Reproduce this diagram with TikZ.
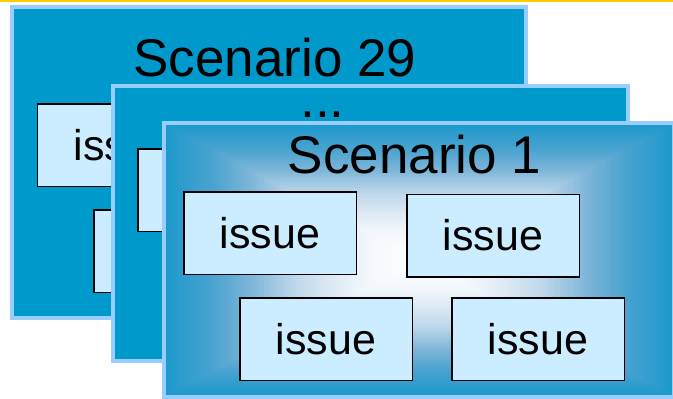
\documentclass[tikz,border=0pt]{standalone}
\usepackage{fontspec}
\setmainfont{Liberation Sans}

\definecolor{panelblue}{HTML}{0099CC}
\definecolor{panelrim}{HTML}{99CCFF}
\definecolor{issuefill}{HTML}{CCECFF}
\definecolor{toprule}{HTML}{FFCC00}
% stops of the centre-lit fill, from the rim inwards
\definecolor{gA}{RGB}{30,153,204}
\definecolor{gB}{RGB}{74,163,208}
\definecolor{gC}{RGB}{125,181,216}
\definecolor{gD}{RGB}{189,215,234}
\definecolor{gE}{RGB}{221,233,244}
\definecolor{gF}{RGB}{244,248,252}
\definecolor{gG}{RGB}{255,255,255}

% centre and half sizes of the rectangular gradient
\def\gcx{419}
\def\gcy{260}
\def\ghw{253}
\def\ghh{135}

% one band of the rectangular gradient: from t=#1 to t=#2, colour #3 to #4
\newcommand\rectband[4]{%
  \foreach \k in {0,...,14}{%
    \pgfmathsetmacro\bandt{#1+(#2-#1)*\k/15}%
    \pgfmathtruncatemacro\bandmix{100-100*\k/15}%
    \fill[#3!\bandmix!#4] (\gcx-\ghw*\bandt,\gcy-\ghh*\bandt) rectangle (\gcx+\ghw*\bandt,\gcy+\ghh*\bandt);
  }}

\begin{document}
\begin{tikzpicture}[x=1bp,y=-1bp,
  panel/.style={draw=panelrim,line width=4bp,inner sep=0pt},
  issue/.style={draw=black,line width=1.5bp,fill=issuefill,
    minimum width=172.5bp,minimum height=82.5bp,inner sep=0pt,
    font=\fontsize{43bp}{50bp}\selectfont},
  title/.style={font=\fontsize{53bp}{60bp}\selectfont,inner sep=0pt,anchor=base}]

\useasboundingbox (0,0) rectangle (673,398);
\clip (0,0) rectangle (673,398);

% thin rule along the top edge
\coordinate (ruleL) at (0,0.75);
\coordinate (ruleR) at (673,0.75);
\draw[toprule,line width=1.5bp] (ruleL) -- (ruleR);

% back panel: Scenario 29
\node[panel,fill=panelblue,minimum width=514bp,minimum height=311bp] (pA) at (269,162.5) {};
\node[title] (tA) at (275,76) {Scenario 29};
\node[issue] (a1) at (124,145) {issue};
\node[issue] (a2) at (180,251) {};

% middle panel
\node[panel,fill=panelblue,minimum width=515bp,minimum height=275bp] (pB) at (370.5,223.5) {};
\node[title] (tB) at (322.5,117) {...};
\node[issue] (b1) at (224,190) {};

% front panel: Scenario 1, lit from the centre
\begin{scope}
  \clip (164,123) rectangle (674,397);
  \rectband{1.00}{0.82}{gA}{gB}
  \rectband{0.82}{0.67}{gB}{gC}
  \rectband{0.67}{0.50}{gC}{gD}
  \rectband{0.50}{0.35}{gD}{gE}
  \rectband{0.35}{0.20}{gE}{gF}
  \rectband{0.20}{0.00}{gF}{gG}
\end{scope}
\node[panel,minimum width=510bp,minimum height=274bp] (pC) at (419,260) {};
\node[title] (tC) at (414.5,173) {Scenario 1};
\node[issue] (c1) at (270,233) {issue};
\node[issue] (c2) at (493,235.5) {issue};
\node[issue] (c3) at (326,339) {issue};
\node[issue] (c4) at (538,339) {issue};

\end{tikzpicture}
\end{document}
